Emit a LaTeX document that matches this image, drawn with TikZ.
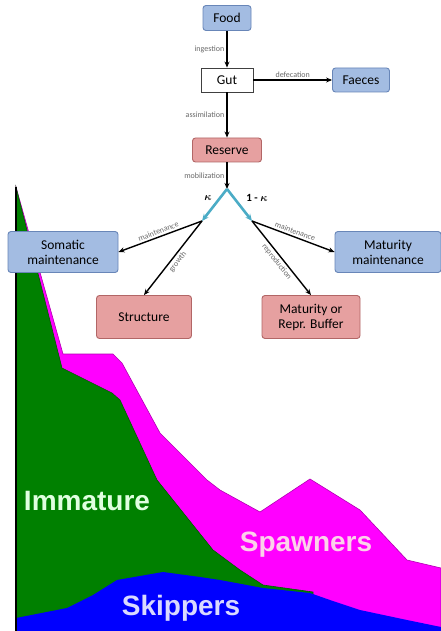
\documentclass[tikz,border=0pt]{standalone}
\usepackage{amsmath}
\usepackage{fontspec}
\setmainfont{Carlito}
\newfontfamily\chartfont{Liberation Sans}
\usetikzlibrary{arrows.meta,positioning}

\definecolor{boxblue}{RGB}{163,188,226}
\definecolor{boxblueline}{RGB}{104,134,184}
\definecolor{boxpink}{RGB}{230,160,160}
\definecolor{boxpinkline}{RGB}{178,102,102}
\definecolor{kapcyan}{RGB}{75,172,198}
\definecolor{lblgray}{RGB}{105,105,105}
\definecolor{immgreen}{RGB}{0,128,0}
\definecolor{spwmag}{RGB}{255,0,255}
\definecolor{skpblue}{RGB}{0,0,255}

\tikzset{
  bluebox/.style={draw=boxblueline, fill=boxblue, rounded corners=3pt, line width=0.9pt,
    inner sep=1pt, align=center, font=\fontsize{13.5}{15}\selectfont},
  pinkbox/.style={draw=boxpinkline, fill=boxpink, rounded corners=3pt, line width=0.9pt,
    inner sep=1pt, align=center, font=\fontsize{13.5}{15}\selectfont},
  gutbox/.style={draw=black!75, fill=white, line width=0.9pt, inner sep=1pt,
    font=\fontsize{13.5}{15}\selectfont},
  flowarr/.style={-{Stealth[length=6pt, width=5pt]}, line width=1.4pt, black},
  kaparr/.style={-{Stealth[length=7pt, width=6pt]}, line width=2.6pt, kapcyan},
  flowlbl/.style={font=\fontsize{8}{9}\selectfont, text=lblgray, inner sep=2pt},
  chartlbl/.style={font=\chartfont\bfseries\fontsize{28}{30}\selectfont, inner sep=0pt}
}

\begin{document}
\begin{tikzpicture}[x=1pt, y=-1pt]
  % Canvas, in pixels of the 441 x 631 picture
  \useasboundingbox (0,0) rectangle (441,631);
  \fill[white] (0,0) rectangle (441,631);

  % Spawners (outer area)
  \filldraw[fill=spwmag, draw=spwmag!70!black, line width=0.6pt]
    (16,187) -- (63,354) -- (113,354) -- (122,363) -- (160,433) -- (207,480)
    -- (220,490) -- (260,512) -- (310,479) -- (360,510) -- (407,560)
    -- (441,568) -- (441,631) -- (16,631) -- cycle;
  % Immature
  \filldraw[fill=immgreen, draw=immgreen!70!black, line width=0.6pt]
    (16,187) -- (62,368) -- (112,393) -- (120,400) -- (157,480) -- (185,515)
    -- (213,550) -- (240,570) -- (263,585) -- (313,592) -- (313,631)
    -- (16,631) -- cycle;
  % Skippers
  \fill[skpblue]
    (16,618) -- (67,608) -- (93,595) -- (117,580) -- (163,572) -- (200,577)
    -- (220,580) -- (263,588) -- (310,593) -- (330,600) -- (360,610)
    -- (407,620) -- (441,627) -- (441,631) -- (16,631) -- cycle;
  % Left axis
  \draw[line width=1.8pt, black] (16,187) -- (16,631);

  % Group names
  \foreach \nm/\xx/\yy/\cc/\txt in {imm/87/501/{green!12!white}/Immature,
                                   spw/306/545/{magenta!18!white}/Spawners,
                                   skp/181/608/{blue!15!white}/Skippers} {
    \node[chartlbl, text=\cc] (\nm) at (\xx,\yy) {\txt};
  }

  % Food -> Gut -> Reserve
  \node[bluebox, minimum width=48pt, minimum height=25pt] (food) at (227,18) {Food};
  \node[gutbox, minimum width=52pt, minimum height=24pt] (gut) at (227,80) {Gut};
  \node[bluebox, minimum width=57pt, minimum height=24pt] (faeces) at (361,80) {Faeces};
  \node[pinkbox, minimum width=69pt, minimum height=24pt] (reserve) at (227,150) {Reserve};

  \draw[flowarr] (food) -- (gut) node[midway, left, flowlbl] {ingestion};
  \draw[flowarr] (gut) -- (faeces) node[midway, above, flowlbl] {defecation};
  \draw[flowarr] (gut) -- (reserve) node[midway, left, flowlbl] {assimilation};

  % kappa split
  \coordinate (split) at (227,189);
  \coordinate (kl) at (202,221);
  \coordinate (kr) at (252,221);
  \draw[flowarr] (reserve) -- (split) node[midway, left, flowlbl] {mobilization};
  \draw[kaparr] (split) -- (kl);
  \draw[kaparr] (split) -- (kr);
  \node[font=\fontsize{11}{12}\selectfont\bfseries] (kap) at (208,198) {$\boldsymbol{\kappa}$};
  \node[font=\fontsize{11}{12}\selectfont\bfseries] (onemkap) at (257,198) {1 - $\boldsymbol{\kappa}$};

  % Sinks
  \node[bluebox, minimum width=110pt, minimum height=41pt] (soma) at (63,252) {Somatic\\maintenance};
  \node[bluebox, minimum width=106pt, minimum height=41pt] (matm) at (388,252) {Maturity\\maintenance};
  \node[pinkbox, minimum width=95pt, minimum height=43pt] (struct) at (144,317) {Structure};
  \node[pinkbox, minimum width=98pt, minimum height=43pt] (repr) at (311,317) {Maturity or\\Repr. Buffer};

  \draw[flowarr] (kl) -- (soma.east) node[midway, above, sloped, flowlbl] {maintenance};
  \draw[flowarr] (kl) -- (struct.north) node[midway, below, sloped, flowlbl] {growth};
  \draw[flowarr] (kr) -- (matm.west) node[midway, above, sloped, flowlbl] {maintenance};
  \draw[flowarr] (kr) -- (repr.north) node[midway, below, sloped, flowlbl] {reproduction};
\end{tikzpicture}
\end{document}
